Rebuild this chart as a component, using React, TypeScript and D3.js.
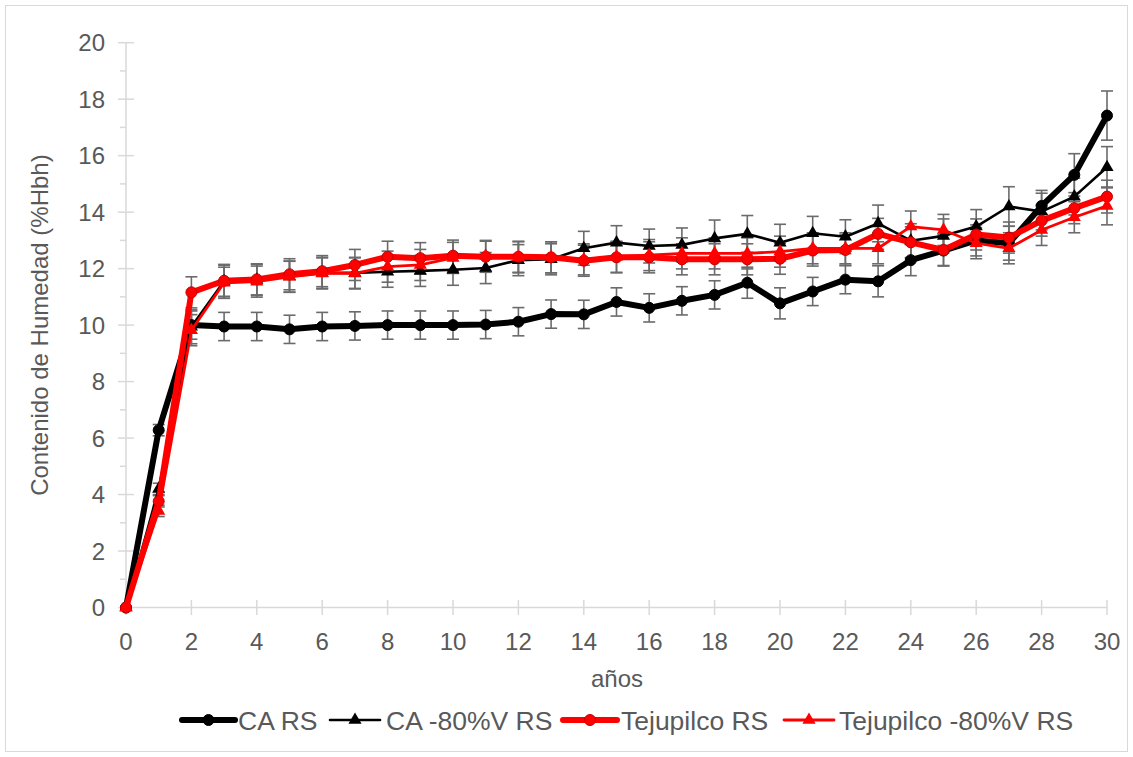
import React from "react";
import * as d3 from "d3";

const years = d3.range(0, 31);

const caRS = [0, 6.28, 10.0, 9.95, 9.95, 9.85, 9.95, 9.97, 10.0, 10.0, 10.0, 10.02, 10.12, 10.39, 10.38, 10.82, 10.61, 10.86, 11.07, 11.5, 10.77, 11.19, 11.61, 11.55, 12.3, 12.64, 13.0, 12.9, 14.22, 15.32, 17.42];
const caRSErr = [0, 0.2, 0.5, 0.5, 0.5, 0.5, 0.5, 0.5, 0.5, 0.5, 0.5, 0.5, 0.5, 0.5, 0.5, 0.5, 0.5, 0.5, 0.5, 0.55, 0.55, 0.5, 0.5, 0.55, 0.55, 0.55, 0.55, 0.6, 0.55, 0.75, 0.87];

const ca80 = [0, 4.2, 9.94, 11.55, 11.6, 11.72, 11.85, 11.85, 11.89, 11.92, 11.96, 12.02, 12.3, 12.33, 12.72, 12.92, 12.8, 12.84, 13.07, 13.23, 12.92, 13.25, 13.13, 13.6, 12.99, 13.16, 13.49, 14.2, 14.02, 14.55, 15.59];
const ca80Err = [0, 0.2, 0.6, 0.6, 0.55, 0.55, 0.55, 0.55, 0.55, 0.55, 0.55, 0.55, 0.55, 0.55, 0.6, 0.6, 0.6, 0.6, 0.65, 0.65, 0.65, 0.6, 0.6, 0.65, 0.6, 0.6, 0.6, 0.7, 0.65, 0.65, 0.73];

const tejRS = [0, 3.76, 11.16, 11.57, 11.62, 11.8, 11.91, 12.13, 12.42, 12.37, 12.46, 12.42, 12.42, 12.4, 12.28, 12.4, 12.4, 12.33, 12.33, 12.33, 12.35, 12.64, 12.66, 13.23, 12.93, 12.66, 13.21, 13.1, 13.7, 14.14, 14.55];
const tejRSErr = [0, 0.2, 0.55, 0.55, 0.55, 0.55, 0.55, 0.55, 0.55, 0.55, 0.55, 0.55, 0.55, 0.55, 0.55, 0.55, 0.55, 0.55, 0.55, 0.55, 0.55, 0.55, 0.55, 0.55, 0.55, 0.55, 0.55, 0.55, 0.55, 0.55, 0.58];

const tej80 = [0, 3.42, 9.82, 11.5, 11.54, 11.71, 11.83, 11.83, 12.07, 12.13, 12.38, 12.45, 12.4, 12.4, 12.33, 12.42, 12.48, 12.54, 12.54, 12.54, 12.6, 12.72, 12.72, 12.72, 13.49, 13.37, 12.9, 12.72, 13.37, 13.82, 14.22];
const tej80Err = [0, 0.2, 0.55, 0.55, 0.55, 0.55, 0.55, 0.55, 0.55, 0.55, 0.55, 0.55, 0.55, 0.55, 0.55, 0.55, 0.55, 0.55, 0.55, 0.55, 0.55, 0.55, 0.55, 0.55, 0.55, 0.55, 0.55, 0.55, 0.55, 0.55, 0.67];

const seriesNames = ["CA RS", "CA -80%V RS", "Tejupilco RS", "Tejupilco -80%V RS"];
const yTicks = [0, 2, 4, 6, 8, 10, 12, 14, 16, 18, 20];
const yMinorTicks = d3.range(1, 20, 2);
const xTicks = [0, 2, 4, 6, 8, 10, 12, 14, 16, 18, 20, 22, 24, 26, 28, 30];

const W = 1133;
const H = 757;
const FONT = "'Liberation Sans', Arial, sans-serif";
const TEXT = "#595959";
const AXIS = "#d9d9d9";
const ERR = "#6b6b6b";

const x = d3.scaleLinear().domain([0, 30]).range([126, 1107]);
const y = d3.scaleLinear().domain([0, 20]).range([607.5, 42.7]);

type S = {
  name: string;
  values: number[];
  err: number[];
  color: string;
  width: number;
  marker: "circle" | "triangle";
  stroke: string;
};

const series: S[] = [
  { name: seriesNames[0], values: caRS, err: caRSErr, color: "#000000", width: 6, marker: "circle", stroke: "#000000" },
  { name: seriesNames[1], values: ca80, err: ca80Err, color: "#000000", width: 2.6, marker: "triangle", stroke: "#000000" },
  { name: seriesNames[2], values: tejRS, err: tejRSErr, color: "#ff0000", width: 6, marker: "circle", stroke: "#c00000" },
  { name: seriesNames[3], values: tej80, err: tej80Err, color: "#ff0000", width: 2.8, marker: "triangle", stroke: "#ff0000" },
];

const tri = d3.symbol().type(d3.symbolTriangle).size(75);

function Marker({ s, cx, cy }: { s: S; cx: number; cy: number }) {
  if (s.marker === "circle") {
    return <circle cx={cx} cy={cy} r={5.5} fill={s.color} stroke={s.stroke} strokeWidth={1} />;
  }
  return <path d={tri() as string} transform={`translate(${cx},${cy})`} fill={s.color} />;
}

const legendItems = [
  { x0: 182, x1: 235, tx: 238 },
  { x0: 330, x1: 380, tx: 386 },
  { x0: 563, x1: 617, tx: 621 },
  { x0: 784, x1: 834, tx: 839 },
];
const legendY = 720;

export default function App() {
  const line = d3
    .line<number>()
    .x((_, i) => x(years[i]))
    .y((d) => y(d));

  return (
    <svg width={W} height={H} style={{ position: "absolute", left: 0, top: 0, background: "#fff" }} fontFamily={FONT}>
      <rect x={0} y={0} width={W} height={H} fill="#fff" />
      <rect x={5.5} y={5.5} width={1122} height={746} fill="none" stroke={AXIS} strokeWidth={1} />

      {/* Y axis */}
      <line x1={x(0)} x2={x(0)} y1={y(0)} y2={y(20)} stroke={AXIS} strokeWidth={1.5} />
      {yTicks.map((t) => (
        <line key={"yt" + t} x1={x(0) - 8} x2={x(0) + 8} y1={y(t)} y2={y(t)} stroke={AXIS} strokeWidth={1.5} />
      ))}
      {yMinorTicks.map((t) => (
        <line key={"ym" + t} x1={x(0) - 6} x2={x(0)} y1={y(t)} y2={y(t)} stroke={AXIS} strokeWidth={1.5} />
      ))}
      {yTicks.map((t) => (
        <text key={"yl" + t} x={105} y={y(t) + 8.5} textAnchor="end" fontSize={24} fill={TEXT}>
          {t}
        </text>
      ))}

      {/* X axis */}
      <line x1={x(0)} x2={x(30)} y1={y(0)} y2={y(0)} stroke={AXIS} strokeWidth={1.5} />
      {xTicks.map((t) => (
        <line key={"xt" + t} x1={x(t)} x2={x(t)} y1={y(0) - 7.5} y2={y(0) + 7.5} stroke={AXIS} strokeWidth={1.5} />
      ))}
      {xTicks.map((t) => (
        <text key={"xl" + t} x={x(t)} y={650} textAnchor="middle" fontSize={24} fill={TEXT}>
          {t}
        </text>
      ))}

      <text x={617} y={687} textAnchor="middle" fontSize={24} fill={TEXT}>
        años
      </text>
      <text transform={`translate(48,${(y(0) + y(20)) / 2}) rotate(-90)`} textAnchor="middle" fontSize={24} fill={TEXT}>
        Contenido de Humedad (%Hbh)
      </text>

      {/* error bars */}
      {series.map((s, si) => (
        <g key={"eb" + si}>
          {s.values.map((v, i) =>
            s.err[i] > 0 ? (
              <g key={i} stroke={ERR} strokeWidth={1.6}>
                <line x1={x(years[i])} x2={x(years[i])} y1={y(v - s.err[i])} y2={y(v + s.err[i])} />
                <line x1={x(years[i]) - 6} x2={x(years[i]) + 6} y1={y(v - s.err[i])} y2={y(v - s.err[i])} />
                <line x1={x(years[i]) - 6} x2={x(years[i]) + 6} y1={y(v + s.err[i])} y2={y(v + s.err[i])} />
              </g>
            ) : null
          )}
        </g>
      ))}

      {/* lines and markers */}
      {series.map((s, si) => (
        <g key={"s" + si}>
          <path d={line(s.values) as string} fill="none" stroke={s.color} strokeWidth={s.width} strokeLinejoin="round" strokeLinecap="round" />
          {s.values.map((v, i) => (
            <Marker key={i} s={s} cx={x(years[i])} cy={y(v)} />
          ))}
        </g>
      ))}

      {/* legend */}
      {series.map((s, si) => {
        const it = legendItems[si];
        return (
          <g key={"lg" + si}>
            <line x1={it.x0} x2={it.x1} y1={legendY} y2={legendY} stroke={s.color} strokeWidth={s.width} strokeLinecap="round" />
            <Marker s={s} cx={(it.x0 + it.x1) / 2} cy={legendY} />
            <text x={it.tx} y={legendY + 9.5} fontSize={26.5} fill={TEXT}>
              {s.name}
            </text>
          </g>
        );
      })}
    </svg>
  );
}
